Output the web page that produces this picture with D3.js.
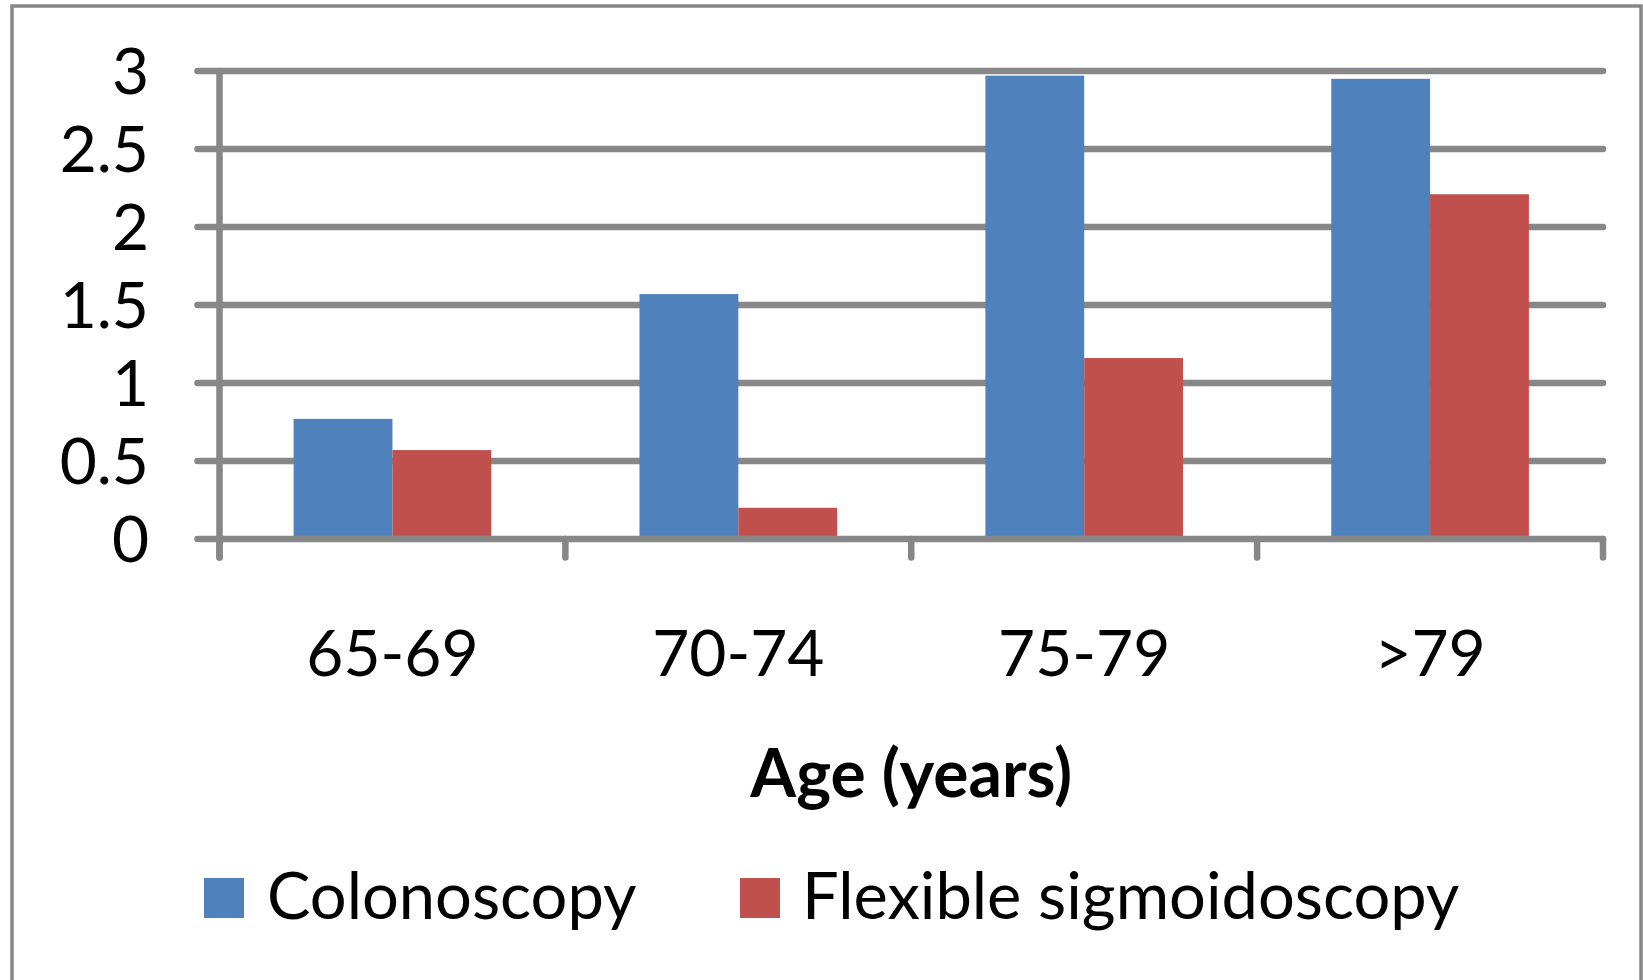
<!DOCTYPE html>
<html>
<head>
<meta charset="utf-8">
<script src="https://cdn.jsdelivr.net/npm/d3@7"></script>
<style>
  html, body { margin: 0; padding: 0; background: #fff; }
  svg { display: block; }
  text { font-family: Lato, "Open Sans", sans-serif; fill: #000; }
</style>
</head>
<body>
<svg id="chart" width="1643" height="980"></svg>
<script>
// Age groups and the rates for each procedure
const categories = ["65-69", "70-74", "75-79", ">79"];
const seriesNames = ["Colonoscopy", "Flexible sigmoidoscopy"];
const colonoscopy = [0.77, 1.57, 2.97, 2.95];
const flexibleSigmoidoscopy = [0.57, 0.20, 1.16, 2.21];
const yTicks = [0, 0.5, 1, 1.5, 2, 2.5, 3];
const colors = ["#4F81BD", "#C0504D"];
const axisTitle = "Age (years)";

const seriesValues = [colonoscopy, flexibleSigmoidoscopy];
const rows = categories.map((c, i) => ({
  category: c,
  values: seriesNames.map((s, j) => ({ series: s, value: seriesValues[j][i], color: colors[j] }))
}));

const svg = d3.select("#chart");
const grey = "#878787";
const lineW = 6.5;
const fontSize = 64;

// Plot area
const plotLeft = 219.5, plotRight = 1603, plotTop = 71, plotBottom = 539;

const x0 = d3.scaleBand().domain(categories).range([plotLeft, plotRight]).padding(0);
const x1 = d3.scaleBand().domain(seriesNames).range([0, x0.bandwidth()]).paddingInner(0).paddingOuter(0.75);
const y = d3.scaleLinear().domain([0, 3]).range([plotBottom, plotTop]);

// Outer frame
svg.append("rect")
  .attr("x", 12).attr("y", 6)
  .attr("width", 1629).attr("height", 1100)
  .attr("fill", "none").attr("stroke", grey).attr("stroke-width", 3.5);

// Horizontal gridlines, extending left of the axis as tick marks
svg.append("g").selectAll("line")
  .data(yTicks.filter(t => t > 0))
  .join("line")
  .attr("x1", plotLeft - 22).attr("x2", plotRight)
  .attr("y1", d => y(d)).attr("y2", d => y(d))
  .attr("stroke", grey).attr("stroke-width", lineW).attr("stroke-linecap", "round");

// Bars
const groups = svg.append("g").selectAll("g")
  .data(rows)
  .join("g")
  .attr("transform", d => `translate(${x0(d.category)},0)`);

groups.selectAll("rect")
  .data(d => d.values)
  .join("rect")
  .attr("x", d => x1(d.series))
  .attr("width", x1.bandwidth())
  .attr("y", d => y(d.value))
  .attr("height", d => y(0) - y(d.value))
  .attr("fill", d => d.color);

// Value axis line
svg.append("line")
  .attr("x1", plotLeft).attr("x2", plotLeft)
  .attr("y1", y(3)).attr("y2", plotBottom + 18.5)
  .attr("stroke", grey).attr("stroke-width", lineW).attr("stroke-linecap", "round");

// Category axis line and boundary ticks
svg.append("line")
  .attr("x1", plotLeft - 22).attr("x2", plotRight)
  .attr("y1", y(0)).attr("y2", y(0))
  .attr("stroke", grey).attr("stroke-width", lineW).attr("stroke-linecap", "round");

const boundaries = categories.map(c => x0(c)).concat([x0(categories[categories.length - 1]) + x0.bandwidth()]);
svg.append("g").selectAll("line")
  .data(boundaries)
  .join("line")
  .attr("x1", d => d).attr("x2", d => d)
  .attr("y1", y(0)).attr("y2", plotBottom + 18.5)
  .attr("stroke", grey).attr("stroke-width", lineW).attr("stroke-linecap", "round");

// Value tick labels
svg.append("g").selectAll("text")
  .data(yTicks)
  .join("text")
  .attr("x", 149)
  .attr("y", d => y(d))
  .attr("dy", "0.36em")
  .attr("text-anchor", "end")
  .attr("font-size", fontSize)
  .text(d => d3.format("")(d));

// Category labels
svg.append("g").selectAll("text")
  .data(categories)
  .join("text")
  .attr("x", d => x0(d) + x0.bandwidth() / 2)
  .attr("y", 676)
  .attr("text-anchor", "middle")
  .attr("font-size", fontSize)
  .text(d => d);

// Axis title
svg.append("text")
  .attr("x", (plotLeft + plotRight) / 2)
  .attr("y", 797)
  .attr("text-anchor", "middle")
  .attr("font-size", 66)
  .attr("font-weight", "bold")
  .text(axisTitle);

// Legend
const legendX = [204, 740];
const legend = svg.append("g").selectAll("g")
  .data(seriesNames)
  .join("g")
  .attr("transform", (d, i) => `translate(${legendX[i]},0)`);

legend.append("rect")
  .attr("x", 0).attr("y", 878)
  .attr("width", 40).attr("height", 40)
  .attr("fill", (d, i) => colors[i]);

legend.append("text")
  .attr("x", (d, i) => i === 0 ? 63 : 62)
  .attr("y", 919)
  .attr("font-size", 65)
  .text(d => d);
</script>
</body>
</html>
